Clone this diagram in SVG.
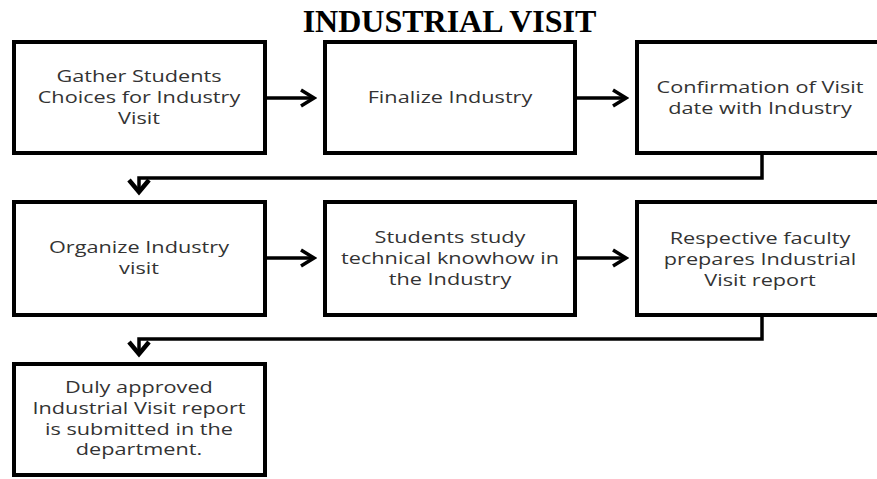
<svg xmlns="http://www.w3.org/2000/svg" width="877" height="479" viewBox="0 0 877 479">
<style>
.box{fill:#fff;stroke:#000;stroke-width:4}
.lbl{font-family:"Open Sans","Liberation Sans",sans-serif;font-size:15.5px;fill:#333;text-anchor:middle}
.title{font-family:"Liberation Serif","Times New Roman",serif;font-size:32px;font-weight:bold;fill:#000;text-anchor:middle}
.conn{fill:none;stroke:#000;stroke-width:3.5}
</style>
<defs>
<marker id="arr" markerUnits="userSpaceOnUse" viewBox="0 0 18 20" refX="15" refY="10" markerWidth="18" markerHeight="20" orient="auto">
<path d="M2,2 L15,10 L2,18" fill="none" stroke="#000" stroke-width="3.5"/>
</marker>
<marker id="arrd" markerUnits="userSpaceOnUse" viewBox="0 0 18 26" refX="15" refY="13" markerWidth="18" markerHeight="26" orient="auto">
<path d="M2,3 L14,13 L2,23" fill="none" stroke="#000" stroke-width="4.5"/>
</marker>
</defs>
<rect width="877" height="479" fill="#fff"/>
<text class="title" x="449.5" y="32">INDUSTRIAL VISIT</text>

<g id="node1">
<rect class="box" x="14" y="42" width="251" height="111"/>
<g transform="translate(139,0) scale(1.4,1)"><text class="lbl" x="0" y="82">Gather Students</text><text class="lbl" x="0" y="103">Choices for Industry</text><text class="lbl" x="0" y="124">Visit</text></g>
</g>
<g id="node2">
<rect class="box" x="325" y="42" width="250" height="111"/>
<g transform="translate(450,0) scale(1.4,1)"><text class="lbl" x="0" y="103">Finalize Industry</text></g>
</g>
<g id="node3">
<rect class="box" x="637" y="42" width="260" height="111"/>
<g transform="translate(760,0) scale(1.4,1)"><text class="lbl" x="0" y="93">Confirmation of Visit</text><text class="lbl" x="0" y="114">date with Industry</text></g>
</g>
<g id="node4">
<rect class="box" x="14" y="202" width="251" height="113"/>
<g transform="translate(139,0) scale(1.4,1)"><text class="lbl" x="0" y="253">Organize Industry</text><text class="lbl" x="0" y="274">visit</text></g>
</g>
<g id="node5">
<rect class="box" x="325" y="202" width="250" height="113"/>
<g transform="translate(450,0) scale(1.4,1)"><text class="lbl" x="0" y="243">Students study</text><text class="lbl" x="0" y="264">technical knowhow in</text><text class="lbl" x="0" y="285">the Industry</text></g>
</g>
<g id="node6">
<rect class="box" x="637" y="202" width="260" height="113"/>
<g transform="translate(760,0) scale(1.4,1)"><text class="lbl" x="0" y="244">Respective faculty</text><text class="lbl" x="0" y="265">prepares Industrial</text><text class="lbl" x="0" y="286">Visit report</text></g>
</g>
<g id="node7">
<rect class="box" x="14" y="364" width="251" height="111"/>
<g transform="translate(139,0) scale(1.4,1)"><text class="lbl" x="0" y="393">Duly approved</text><text class="lbl" x="0" y="414">Industrial Visit report</text><text class="lbl" x="0" y="435">is submitted in the</text><text class="lbl" x="0" y="455">department.</text></g>
</g>

<g id="connectors">
<path class="conn" d="M267,98 L314,98" marker-end="url(#arr)"/>
<path class="conn" d="M577,98 L626,98" marker-end="url(#arr)"/>
<path class="conn" d="M762,155 L762,178 L139,178 L139,193" marker-end="url(#arrd)"/>
<path class="conn" d="M267,258 L314,258" marker-end="url(#arr)"/>
<path class="conn" d="M577,258 L626,258" marker-end="url(#arr)"/>
<path class="conn" d="M762,317 L762,339 L139,339 L139,355" marker-end="url(#arrd)"/>
</g>
</svg>
